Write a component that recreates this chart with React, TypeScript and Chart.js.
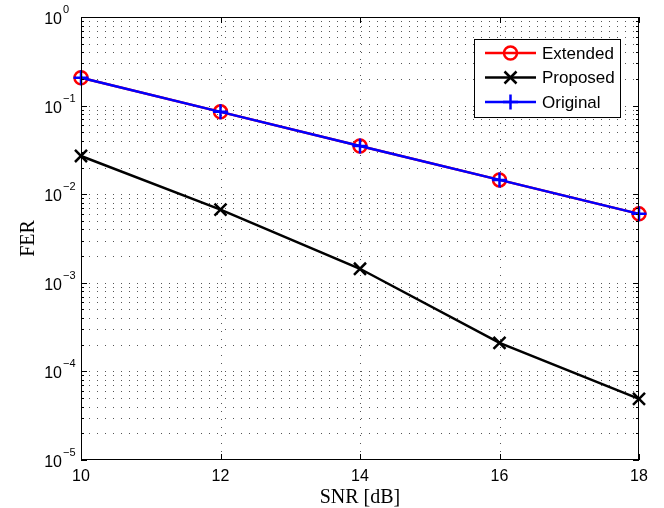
import React, { useEffect, useRef } from 'react';
import { Chart, registerables } from 'chart.js';

Chart.register(...registerables);

const snr = [10, 12, 14, 16, 18];
const extended = [0.206, 0.085, 0.035, 0.0145, 0.006];
const proposed = [0.027, 0.0067, 0.00144, 0.00021, 0.000049];
const original = [0.206, 0.085, 0.035, 0.0145, 0.006];
const xTicks = [10, 12, 14, 16, 18];
const yDecades = [-5, -4, -3, -2, -1, 0];
const seriesNames = ['Extended', 'Proposed', 'Original'];
const seriesColors = ['#ff0000', '#000000', '#0000ff'];
const seriesMarkers = ['circle', 'crossRot', 'cross'];
const xTitle = 'SNR [dB]';
const yTitle = 'FER';

const SANS = '"Liberation Sans", Arial, Helvetica, sans-serif';
const SERIF = '"Liberation Serif", "Times New Roman", serif';

function drawMarker(ctx: CanvasRenderingContext2D, style: string, cx: number, cy: number, color: string) {
  ctx.save();
  ctx.strokeStyle = color;
  ctx.lineWidth = 2.5;
  ctx.setLineDash([]);
  ctx.beginPath();
  if (style === 'circle') {
    ctx.arc(cx, cy, 6.5, 0, Math.PI * 2);
  } else if (style === 'cross') {
    ctx.moveTo(cx - 7.5, cy); ctx.lineTo(cx + 7.5, cy);
    ctx.moveTo(cx, cy - 7.5); ctx.lineTo(cx, cy + 7.5);
  } else {
    const o = 6;
    ctx.moveTo(cx - o, cy - o); ctx.lineTo(cx + o, cy + o);
    ctx.moveTo(cx - o, cy + o); ctx.lineTo(cx + o, cy - o);
  }
  ctx.stroke();
  ctx.restore();
}

const matlabPlugin = {
  id: 'matlabAxes',
  beforeDatasetsDraw(chart: any) {
    const { ctx, chartArea: a } = chart;
    const x = chart.scales.x;
    const y = chart.scales.y;
    ctx.save();
    ctx.strokeStyle = '#555555';
    ctx.lineWidth = 1;
    ctx.setLineDash([1, 7]);
    for (const d of yDecades) {
      if (d === 0) continue;
      for (let m = 1; m <= 9; m++) {
        const v = m * Math.pow(10, d);
        if (m === 1 && d === yDecades[0]) continue;
        const py = Math.round(y.getPixelForValue(v)) + 0.5;
        ctx.beginPath();
        ctx.moveTo(a.left, py);
        ctx.lineTo(a.right, py);
        ctx.stroke();
      }
    }
    for (const t of xTicks) {
      if (t === xTicks[0] || t === xTicks[xTicks.length - 1]) continue;
      const px = Math.round(x.getPixelForValue(t)) + 0.5;
      ctx.beginPath();
      ctx.moveTo(px, a.bottom);
      ctx.lineTo(px, a.top);
      ctx.stroke();
    }
    ctx.restore();
  },
  afterDatasetsDraw(chart: any) {
    const { ctx, chartArea: a } = chart;
    const x = chart.scales.x;
    const y = chart.scales.y;
    ctx.save();
    ctx.setLineDash([]);
    ctx.strokeStyle = '#000';
    ctx.lineWidth = 1;
    // frame
    ctx.strokeRect(a.left + 0.5, a.top + 0.5, a.right - a.left - 1, a.bottom - a.top - 1);
    // y ticks
    ctx.beginPath();
    for (const d of yDecades) {
      for (let m = 1; m <= 9; m++) {
        if (d === 0 && m > 1) break;
        const v = m * Math.pow(10, d);
        const py = Math.round(y.getPixelForValue(v)) + 0.5;
        const len = m === 1 ? 6 : 3;
        ctx.moveTo(a.left, py); ctx.lineTo(a.left + len, py);
        ctx.moveTo(a.right, py); ctx.lineTo(a.right - len, py);
      }
    }
    // x ticks
    for (const t of xTicks) {
      const px = Math.round(x.getPixelForValue(t)) + 0.5;
      ctx.moveTo(px, a.bottom); ctx.lineTo(px, a.bottom - 6);
      ctx.moveTo(px, a.top); ctx.lineTo(px, a.top + 6);
    }
    ctx.stroke();

    // y tick labels
    ctx.fillStyle = '#000';
    for (const d of yDecades) {
      const py = y.getPixelForValue(Math.pow(10, d));
      ctx.font = `16px ${SANS}`;
      ctx.textAlign = 'right';
      ctx.textBaseline = 'alphabetic';
      ctx.fillText('10', a.left - 19, py + 7);
      ctx.font = `11px ${SANS}`;
      ctx.textAlign = 'left';
      ctx.fillText(d === 0 ? '0' : '\u2212' + String(-d), a.left - 18, py - 4);
    }
    // x tick labels
    ctx.font = `16px ${SANS}`;
    ctx.textAlign = 'center';
    ctx.textBaseline = 'alphabetic';
    for (const t of xTicks) {
      ctx.fillText(String(t), x.getPixelForValue(t), a.bottom + 21);
    }
    // titles
    ctx.font = `20px ${SERIF}`;
    ctx.fillText(xTitle, (a.left + a.right) / 2, a.bottom + 43);
    ctx.save();
    ctx.translate(34, (a.top + a.bottom) / 2);
    ctx.rotate(-Math.PI / 2);
    ctx.textAlign = 'center';
    ctx.fillText(yTitle, 0, 0);
    ctx.restore();

    // legend
    const lx = 474, ly = 39, lw = 146, lh = 78;
    ctx.fillStyle = '#fff';
    ctx.fillRect(lx, ly, lw, lh);
    ctx.strokeStyle = '#000';
    ctx.lineWidth = 1;
    ctx.strokeRect(lx + 0.5, ly + 0.5, lw, lh);
    const rows = [53, 77.5, 102];
    for (let i = 0; i < seriesNames.length; i++) {
      const ry = rows[i];
      ctx.strokeStyle = seriesColors[i];
      ctx.lineWidth = 2.5;
      ctx.beginPath();
      ctx.moveTo(485, ry);
      ctx.lineTo(536, ry);
      ctx.stroke();
      drawMarker(ctx, seriesMarkers[i], 510.5, ry, seriesColors[i]);
      ctx.fillStyle = '#000';
      ctx.font = `17px ${SANS}`;
      ctx.textAlign = 'left';
      ctx.textBaseline = 'middle';
      ctx.fillText(seriesNames[i], 542, ry + 1);
    }
    ctx.restore();
  },
};

export default function App() {
  const ref = useRef<HTMLCanvasElement>(null);
  useEffect(() => {
    if (!ref.current) return;
    const seriesValues = [extended, proposed, original];
    const chart = new Chart(ref.current, {
      type: 'line',
      data: {
        datasets: seriesNames.map((name, i) => ({
          label: name,
          data: snr.map((s, j) => ({ x: s, y: seriesValues[i][j] })),
          borderColor: seriesColors[i],
          backgroundColor: 'rgba(0,0,0,0)',
          borderWidth: 2.5,
          pointStyle: seriesMarkers[i] as any,
          pointRadius: seriesMarkers[i] === 'circle' ? 6.5 : seriesMarkers[i] === 'cross' ? 7.5 : 8.5,
          pointBorderWidth: 2.5,
          pointBorderColor: seriesColors[i],
          pointBackgroundColor: 'rgba(0,0,0,0)',
          tension: 0,
          fill: false,
          clip: false as any,
          order: 3 - i,
        })),
      },
      options: {
        animation: false,
        responsive: false,
        devicePixelRatio: 1,
        events: [],
        layout: { padding: { left: 81, right: 25, top: 17, bottom: 48 } },
        plugins: { legend: { display: false }, tooltip: { enabled: false } },
        scales: {
          x: { type: 'linear', min: 10, max: 18, display: false },
          y: { type: 'logarithmic', min: 1e-5, max: 1, display: false },
        },
      },
      plugins: [matlabPlugin],
    });
    return () => chart.destroy();
  }, []);
  return (
    <div style={{ position: 'fixed', left: 0, top: 0, width: 664, height: 508, background: '#fff' }}>
      <canvas ref={ref} width={664} height={508} style={{ width: 664, height: 508, display: 'block' }} />
    </div>
  );
}
